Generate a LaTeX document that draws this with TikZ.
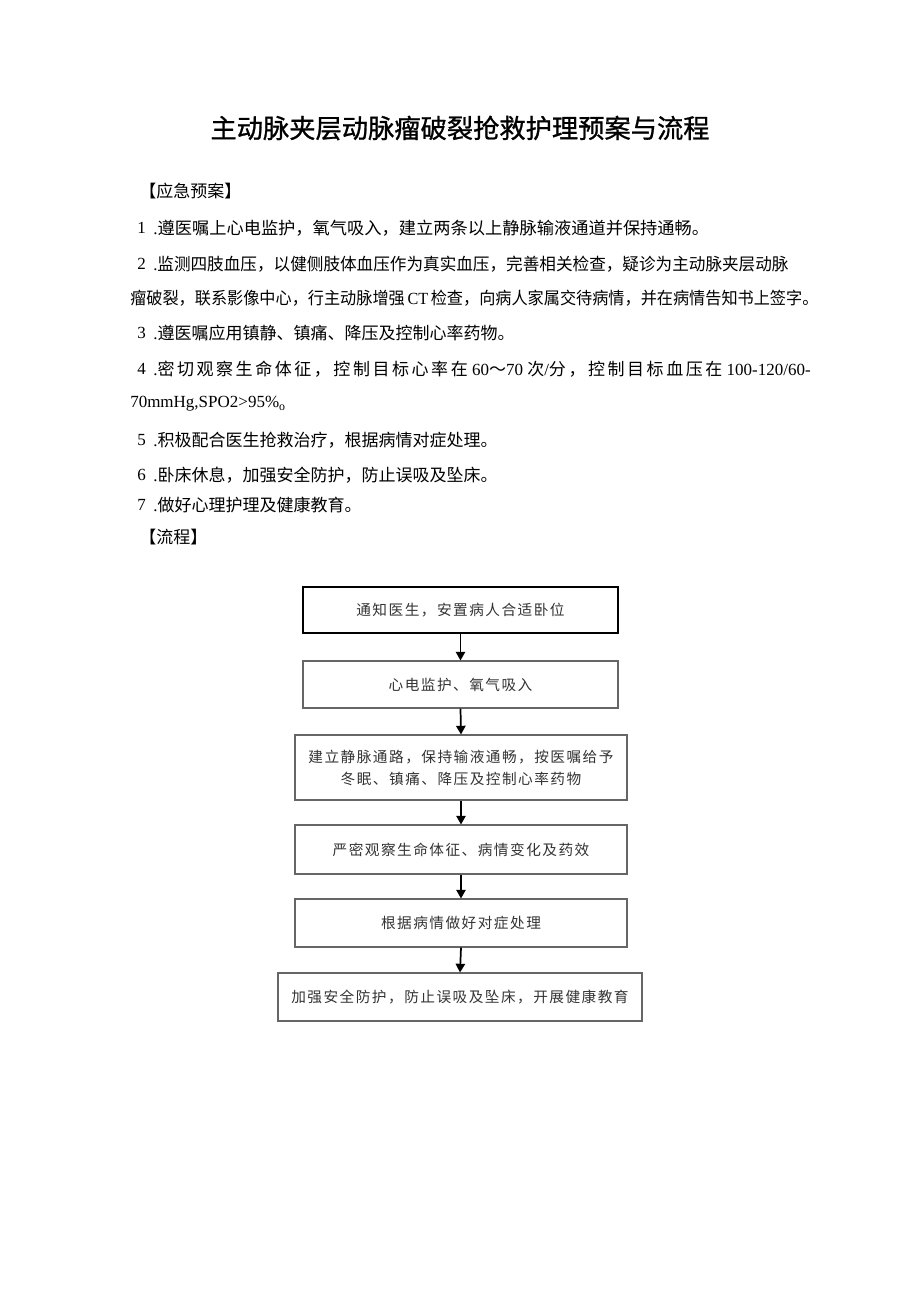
\documentclass[tikz,border=0pt]{standalone}
\usepackage{fontspec}
\usepackage{graphicx}
\setmainfont{Liberation Serif}
\newfontfamily\cjk{Noto Sans CJK SC}
\newfontfamily\cjkwide[LetterSpace=15]{Noto Sans CJK SC}
\newfontfamily\cjktitle[FakeBold=1]{Noto Sans CJK SC}
\newfontfamily\cjkflow[LetterSpace=10]{Noto Sans CJK SC}
\usetikzlibrary{arrows.meta}
\tikzset{
  txt/.style={anchor=west, inner sep=0pt, font=\fontsize{12.75pt}{15pt}\selectfont},
  flowbox/.style={draw=black!60, line width=0.8pt, inner sep=0pt, align=center,
    text=black!80, font=\cjkflow\fontsize{11pt}{16.5pt}\selectfont},
  firstbox/.style={flowbox, draw=black, line width=1.4pt},
  arr/.style={line width=1.3pt, -{Triangle[width=7pt,length=6.5pt]}}
}
\begin{document}
\begin{tikzpicture}[x=0.75pt,y=-0.75pt]
\useasboundingbox (0,0) rectangle (920,1301);
\node[inner sep=0pt, font=\cjktitle\fontsize{19.7pt}{21pt}\selectfont] (title) at (460,128) {主动脉夹层动脉瘤破裂抢救护理预案与流程};

\node[txt] (h1) at (139,191) {\cjk 【应急预案】};
\node[txt] (n1) at (137,228) {1};
\node[txt] (t1) at (153,228) {\scalebox{1.014}[1]{.{\cjk 遵医嘱上心电监护，氧气吸入，建立两条以上静脉输液通道并保持通畅。}}};
\node[txt] (n2) at (137,264) {2};
\node[txt] (t2) at (153,264) {\scalebox{0.977}[1]{.{\cjk 监测四肢血压，以健侧肢体血压作为真实血压，完善相关检查，疑诊为主动脉夹层动脉}}};
\node[txt] (t2b) at (130,298) {\scalebox{0.95}[1]{{\cjk 瘤破裂，联系影像中心，行主动脉增强}\,CT\,{\cjk 检查，向病人家属交待病情，并在病情告知书上签字。}}};
\node[txt] (n3) at (137,333) {3};
\node[txt] (t3) at (153,333) {.{\cjk 遵医嘱应用镇静、镇痛、降压及控制心率药物。}};
\node[txt] (n4) at (137,369) {4};
\node[txt] (t4) at (153,369) {.{\cjkwide 密切观察生命体征，控制目标心率在} 60{\cjk ～}70 {\cjkwide 次}/{\cjkwide 分，控制目标血压在} 100-120/60-};
\node[txt] (t4b) at (130,404) {70mmHg,SPO2>95\%$_{\mathrm{o}}$};
\node[txt] (n5) at (137,440) {5};
\node[txt] (t5) at (153,440) {.{\cjk 积极配合医生抢救治疗，根据病情对症处理。}};
\node[txt] (n6) at (137,475) {6};
\node[txt] (t6) at (153,475) {.{\cjk 卧床休息，加强安全防护，防止误吸及坠床。}};
\node[txt] (n7) at (137,505) {7};
\node[txt] (t7) at (153,505) {.{\cjk 做好心理护理及健康教育。}};
\node[txt] (h2) at (139,537) {\cjk 【流程】};

\node[firstbox, minimum width={315*0.75pt}, minimum height={46*0.75pt}] (b1) at (460.5,610) {通知医生，安置病人合适卧位};
\node[flowbox, minimum width={315*0.75pt}, minimum height={47*0.75pt}] (b2) at (460.5,684.5) {心电监护、氧气吸入};
\node[flowbox, minimum width={332*0.75pt}, minimum height={65*0.75pt}] (b3) at (461,767.5) {建立静脉通路，保持输液通畅，按医嘱给予\\冬眠、镇痛、降压及控制心率药物};
\node[flowbox, minimum width={332*0.75pt}, minimum height={49*0.75pt}] (b4) at (461,849.5) {严密观察生命体征、病情变化及药效};
\node[flowbox, minimum width={332*0.75pt}, minimum height={48*0.75pt}] (b5) at (461,923) {根据病情做好对症处理};
\node[flowbox, minimum width={364*0.75pt}, minimum height={48*0.75pt}] (b6) at (460,997) {加强安全防护，防止误吸及坠床，开展健康教育};

\draw[arr] (b1.south) -- (b2.north);
\draw[arr] (b2.south) -- (b3.north);
\draw[arr] (b3.south) -- (b4.north);
\draw[arr] (b4.south) -- (b5.north);
\draw[arr] (b5.south) -- (b6.north);
\end{tikzpicture}
\end{document}
